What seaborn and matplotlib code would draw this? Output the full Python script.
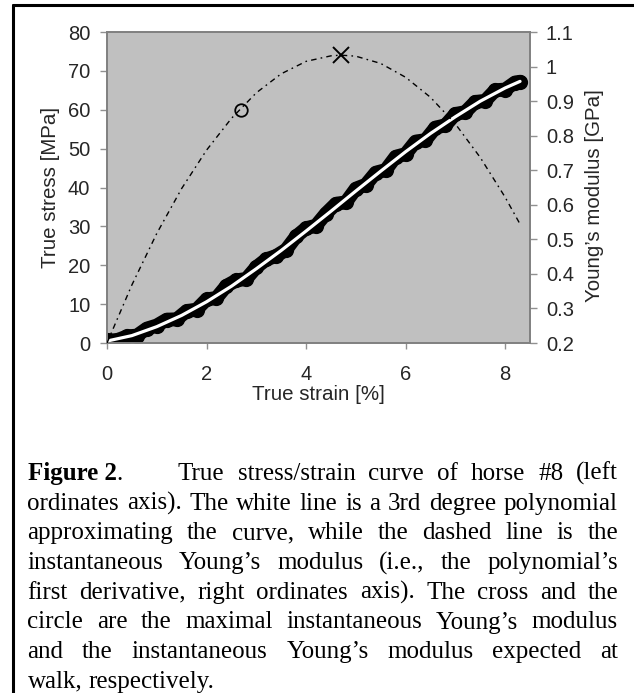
import numpy as np
import pandas as pd
import seaborn as sns
import matplotlib.pyplot as plt
from matplotlib.lines import Line2D

# raw stress/strain samples of horse #8 (black band)
raw_strain = [0.0, 0.2, 0.4, 0.6, 0.8, 1.0, 1.2, 1.4, 1.6, 1.8, 2.0, 2.2, 2.4, 2.6,
              2.8, 3.0, 3.2, 3.4, 3.6, 3.8, 4.0, 4.2, 4.4, 4.6, 4.8, 5.0, 5.2, 5.4,
              5.6, 5.8, 6.0, 6.2, 6.4, 6.6, 6.8, 7.0, 7.2, 7.4, 7.6, 7.8, 8.0, 8.2, 8.3]
raw_stress = [0.7, 0.7, 1.7, 1.9, 3.7, 4.5, 6.0, 6.1, 8.2, 8.6, 11.2, 11.6, 14.7, 16.1,
              16.5, 19.5, 21.5, 22.4, 24.0, 27.4, 29.5, 30.2, 33.3, 35.8, 36.2, 39.7, 40.7, 43.8,
              44.5, 47.9, 48.6, 51.8, 52.2, 55.4, 56.0, 58.9, 59.4, 62.0, 62.3, 65.0, 65.2, 67.0, 67.2]

# 3rd degree polynomial (white line)
fit_strain = [0.0, 0.5, 1.0, 1.5, 2.0, 2.5, 3.0, 3.5, 4.0, 4.5, 5.0, 5.5, 6.0, 6.5, 7.0, 7.5, 8.0, 8.3]
fit_stress = [0.5, 1.9, 4.2, 7.1, 10.6, 14.6, 19.1, 23.8, 28.8, 33.9, 39.1, 44.2, 49.2, 53.9, 58.2, 62.2, 65.6, 67.3]

# instantaneous Young's modulus (right axis)
mod_strain = [0.0, 0.5, 1.0, 1.5, 2.0, 2.5, 3.0, 3.5, 4.0, 4.5, 4.7, 5.0, 5.5, 6.0, 6.5, 7.0, 7.5, 8.0, 8.3]
mod_gpa = [0.200, 0.368, 0.517, 0.647, 0.758, 0.850, 0.924, 0.979, 1.015, 1.031, 1.033,
           1.030, 1.009, 0.969, 0.911, 0.834, 0.737, 0.622, 0.544]

max_point = (4.7, 1.033)    # cross
walk_point = (2.7, 0.874)   # circle

left_ticks = [0, 10, 20, 30, 40, 50, 60, 70, 80]
right_ticks = [0.2, 0.3, 0.4, 0.5, 0.6, 0.7, 0.8, 0.9, 1.0, 1.1]
right_labels = ["0.2", "0.3", "0.4", "0.5", "0.6", "0.7", "0.8", "0.9", "1", "1.1"]
x_ticks = [0, 2, 4, 6, 8]

caption_lines = [
    "True stress/strain curve of horse #8 (left",
    "ordinates axis). The white line is a 3rd degree polynomial",
    "approximating the curve, while the dashed line is the",
    "instantaneous Young\u2019s modulus (i.e., the polynomial\u2019s",
    "first derivative, right ordinates axis). The cross and the",
    "circle are the maximal instantaneous Young\u2019s modulus",
    "and the instantaneous Young\u2019s modulus expected at",
    "walk, respectively.",
]

sns.set_theme(style="white")
plt.rcParams["font.family"] = ["Liberation Sans", "DejaVu Sans"]

W, H = 634, 693
fig = plt.figure(figsize=(W / 100, H / 100), dpi=100)
ax = fig.add_axes([107 / W, 1 - 343 / H, 423 / W, 311 / H])
ax.set_facecolor("#c0c0c0")

raw = pd.DataFrame({"strain": raw_strain, "stress": raw_stress})
fit = pd.DataFrame({"strain": fit_strain, "stress": fit_stress})
mod = pd.DataFrame({"strain": mod_strain, "E": mod_gpa})

sns.lineplot(data=raw, x="strain", y="stress", ax=ax, color="black", lw=10,
             estimator=None, sort=False, solid_capstyle="round",
             solid_joinstyle="round", zorder=2)
sns.scatterplot(data=raw, x="strain", y="stress", ax=ax, color="black", s=120,
                edgecolor="black", linewidth=0, zorder=2)
sns.lineplot(data=fit, x="strain", y="stress", ax=ax, color="white", lw=2.3,
             estimator=None, sort=False, solid_capstyle="round", zorder=3)

ax.set_xlim(0, 8.5)
ax.set_ylim(0, 80)
ax.set_xticks(x_ticks)
ax.set_xticklabels([str(t) for t in x_ticks])
ax.set_yticks(left_ticks)
ax.set_yticklabels([str(t) for t in left_ticks])

ax2 = ax.twinx()
sns.lineplot(data=mod, x="strain", y="E", ax=ax2, color="black", lw=1.0,
             linestyle=(0, (4, 3, 1.2, 3)), estimator=None, sort=False, zorder=4)
ax2.plot([max_point[0]], [max_point[1]], marker="x", ms=11, mew=1.4, color="black",
         ls="none", zorder=5)
ax2.plot([walk_point[0]], [walk_point[1]], marker="o", ms=9, mew=1.3, mfc="none",
         mec="black", ls="none", zorder=5)
ax2.set_ylim(0.2, 1.1)
ax2.set_yticks(right_ticks)
ax2.set_yticklabels(right_labels)
ax2.set_xlim(0, 8.5)

for a in (ax, ax2):
    for sp in a.spines.values():
        sp.set_color("#808080")
        sp.set_linewidth(1.2)
tick_size = 14.5
ax.tick_params(axis="y", direction="out", length=5, width=1, color="#909090",
               pad=7, labelsize=tick_size, left=True)
ax.tick_params(axis="x", direction="out", length=4, width=1, color="#909090",
               pad=12, labelsize=tick_size, bottom=True)
ax2.tick_params(axis="y", direction="out", length=5, width=1, color="#909090",
                pad=6.5, labelsize=tick_size, right=True)

ax.set_xlabel("True strain [%]", fontsize=14.8)
ax.xaxis.set_label_coords(0.5, -0.135)
ax.set_ylabel("True stress [MPa]", fontsize=14.8)
ax.yaxis.set_label_coords(-0.11, 0.5)
ax2.set_ylabel("Young\u2019s modulus [GPa]", fontsize=14.8)
ax2.yaxis.set_label_coords(1.13, 0.474)

# frame around the figure (left and top edges visible)
fig.add_artist(Line2D([12.5 / W, 12.5 / W], [0, 1 - 5 / H], transform=fig.transFigure,
                      color="black", lw=2.2))
fig.add_artist(Line2D([12.5 / W, 1], [1 - 5 / H, 1 - 5 / H], transform=fig.transFigure,
                      color="black", lw=2.2))

# justified caption
fig.canvas.draw()
renderer = fig.canvas.get_renderer()
cap_font = dict(family="Liberation Serif", size=18, color="black")


def word_width(s, **kw):
    t = fig.text(0, 0, s, **kw)
    w = t.get_window_extent(renderer).width
    t.remove()
    return w


def put(x_px, base_px, s, **kw):
    fig.text(x_px / W, 1 - base_px / H, s, ha="left", va="baseline", **kw)


left_px, right_px = 27.5, 618
base0, step = 480, 29.7

put(left_px, base0, "Figure 2", fontweight="bold", **cap_font)
w_fig = word_width("Figure 2", fontweight="bold", **cap_font)
put(left_px + w_fig, base0, ".", **cap_font)

space_w = word_width("a b", **cap_font) - word_width("ab", **cap_font)
for i, line in enumerate(caption_lines):
    words = line.split(" ")
    start = 178 if i == 0 else left_px
    widths = [word_width(w, **cap_font) for w in words]
    if i < len(caption_lines) - 1:
        gap = (right_px - start - sum(widths)) / (len(words) - 1)
    else:
        gap = space_w
    x = start
    for w, wd in zip(words, widths):
        put(x, base0 + i * step, w, **cap_font)
        x += wd + gap

fig.savefig("out.png", dpi=100)
